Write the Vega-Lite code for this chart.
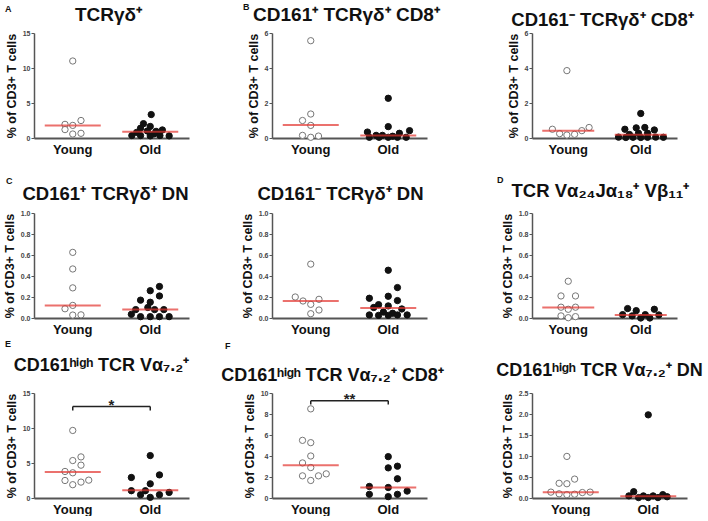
{
  "$schema": "https://vega.github.io/schema/vega-lite/v6.json",
  "padding": {"left": 3, "top": 3, "right": 0, "bottom": 0},
  "columns": 6,
  "spacing": {"row": 75, "column": 0},
  "bounds": "flush",
  "align": "each",
  "datasets": {
    "pts": [
      {"panel":"A","group":"Young","slot":0,"value":11.0},
      {"panel":"A","group":"Young","slot":1.7,"value":2.5},
      {"panel":"A","group":"Young","slot":-1.6,"value":1.95},
      {"panel":"A","group":"Young","slot":0,"value":1.8},
      {"panel":"A","group":"Young","slot":-1.6,"value":1.2},
      {"panel":"A","group":"Young","slot":0,"value":0.57},
      {"panel":"A","group":"Young","slot":1.7,"value":0.67},
      {"panel":"A","group":"Old","slot":0.2,"value":3.35},
      {"panel":"A","group":"Old","slot":-1.4,"value":2.05},
      {"panel":"A","group":"Old","slot":0,"value":1.65},
      {"panel":"A","group":"Old","slot":-2,"value":1.4},
      {"panel":"A","group":"Old","slot":2.5,"value":1.15},
      {"panel":"A","group":"Old","slot":-0.6,"value":1.0},
      {"panel":"A","group":"Old","slot":1.2,"value":0.95},
      {"panel":"A","group":"Old","slot":-2.8,"value":0.8},
      {"panel":"A","group":"Old","slot":0.8,"value":0.6},
      {"panel":"A","group":"Old","slot":-3.8,"value":0.35},
      {"panel":"A","group":"Old","slot":-2,"value":0.35},
      {"panel":"A","group":"Old","slot":0,"value":0.3},
      {"panel":"A","group":"Old","slot":2,"value":0.35},
      {"panel":"A","group":"Old","slot":3.9,"value":0.3},

      {"panel":"B","group":"Young","slot":0,"value":5.56},
      {"panel":"B","group":"Young","slot":0,"value":1.37},
      {"panel":"B","group":"Young","slot":-1.7,"value":1.0},
      {"panel":"B","group":"Young","slot":0,"value":0.72},
      {"panel":"B","group":"Young","slot":-1.7,"value":0.15},
      {"panel":"B","group":"Young","slot":0,"value":0.04},
      {"panel":"B","group":"Young","slot":1.6,"value":0.11},
      {"panel":"B","group":"Old","slot":0,"value":2.27},
      {"panel":"B","group":"Old","slot":0,"value":0.65},
      {"panel":"B","group":"Old","slot":4.4,"value":0.42},
      {"panel":"B","group":"Old","slot":-4.3,"value":0.34},
      {"panel":"B","group":"Old","slot":2.3,"value":0.27},
      {"panel":"B","group":"Old","slot":-2.5,"value":0.15},
      {"panel":"B","group":"Old","slot":-1.2,"value":0.15},
      {"panel":"B","group":"Old","slot":0.9,"value":0.1},
      {"panel":"B","group":"Old","slot":-3.9,"value":0.04},
      {"panel":"B","group":"Old","slot":-1.9,"value":0.04},
      {"panel":"B","group":"Old","slot":0,"value":0.04},
      {"panel":"B","group":"Old","slot":1.9,"value":0.04},
      {"panel":"B","group":"Old","slot":3.7,"value":0.04},

      {"panel":"B2","group":"Young","slot":-0.3,"value":3.85},
      {"panel":"B2","group":"Young","slot":-3.5,"value":0.5},
      {"panel":"B2","group":"Young","slot":-1.9,"value":0.25},
      {"panel":"B2","group":"Young","slot":-0.3,"value":0.17},
      {"panel":"B2","group":"Young","slot":1.4,"value":0.21},
      {"panel":"B2","group":"Young","slot":3,"value":0.42},
      {"panel":"B2","group":"Young","slot":4.6,"value":0.6},
      {"panel":"B2","group":"Old","slot":0,"value":1.4},
      {"panel":"B2","group":"Old","slot":-3.5,"value":0.5},
      {"panel":"B2","group":"Old","slot":-1,"value":0.58},
      {"panel":"B2","group":"Old","slot":0.9,"value":0.6},
      {"panel":"B2","group":"Old","slot":3,"value":0.46},
      {"panel":"B2","group":"Old","slot":-2.5,"value":0.2},
      {"panel":"B2","group":"Old","slot":-0.5,"value":0.27},
      {"panel":"B2","group":"Old","slot":1.5,"value":0.27},
      {"panel":"B2","group":"Old","slot":-4.9,"value":0.05},
      {"panel":"B2","group":"Old","slot":-3.3,"value":0.03},
      {"panel":"B2","group":"Old","slot":-1.7,"value":0.04},
      {"panel":"B2","group":"Old","slot":0,"value":0.03},
      {"panel":"B2","group":"Old","slot":1.5,"value":0.04},
      {"panel":"B2","group":"Old","slot":3.3,"value":0.05},
      {"panel":"B2","group":"Old","slot":5,"value":0.04},

      {"panel":"C","group":"Young","slot":0,"value":0.625},
      {"panel":"C","group":"Young","slot":0,"value":0.467},
      {"panel":"C","group":"Young","slot":0,"value":0.287},
      {"panel":"C","group":"Young","slot":0,"value":0.12},
      {"panel":"C","group":"Young","slot":-1.6,"value":0.088},
      {"panel":"C","group":"Young","slot":0,"value":0.028},
      {"panel":"C","group":"Young","slot":1.7,"value":0.03},
      {"panel":"C","group":"Old","slot":1.9,"value":0.3},
      {"panel":"C","group":"Old","slot":0,"value":0.26},
      {"panel":"C","group":"Old","slot":1.9,"value":0.21},
      {"panel":"C","group":"Old","slot":-2,"value":0.17},
      {"panel":"C","group":"Old","slot":0,"value":0.15},
      {"panel":"C","group":"Old","slot":-3,"value":0.08},
      {"panel":"C","group":"Old","slot":-0.5,"value":0.1},
      {"panel":"C","group":"Old","slot":0.9,"value":0.08},
      {"panel":"C","group":"Old","slot":2.8,"value":0.08},
      {"panel":"C","group":"Old","slot":-3.9,"value":0.035},
      {"panel":"C","group":"Old","slot":-2,"value":0.013},
      {"panel":"C","group":"Old","slot":0,"value":0.013},
      {"panel":"C","group":"Old","slot":1.9,"value":0.013},
      {"panel":"C","group":"Old","slot":3.9,"value":0.013},

      {"panel":"C2","group":"Young","slot":0,"value":0.513},
      {"panel":"C2","group":"Young","slot":-3.2,"value":0.2},
      {"panel":"C2","group":"Young","slot":-1.6,"value":0.162},
      {"panel":"C2","group":"Young","slot":1.7,"value":0.178},
      {"panel":"C2","group":"Young","slot":0,"value":0.13},
      {"panel":"C2","group":"Young","slot":1.7,"value":0.076},
      {"panel":"C2","group":"Young","slot":0,"value":0.041},
      {"panel":"C2","group":"Old","slot":0,"value":0.455},
      {"panel":"C2","group":"Old","slot":1.9,"value":0.29},
      {"panel":"C2","group":"Old","slot":0,"value":0.207},
      {"panel":"C2","group":"Old","slot":-3.9,"value":0.188},
      {"panel":"C2","group":"Old","slot":1.9,"value":0.166},
      {"panel":"C2","group":"Old","slot":-2,"value":0.127},
      {"panel":"C2","group":"Old","slot":0,"value":0.115},
      {"panel":"C2","group":"Old","slot":-3,"value":0.1},
      {"panel":"C2","group":"Old","slot":2.8,"value":0.086},
      {"panel":"C2","group":"Old","slot":-1,"value":0.057},
      {"panel":"C2","group":"Old","slot":0.9,"value":0.045},
      {"panel":"C2","group":"Old","slot":-3.9,"value":0.029},
      {"panel":"C2","group":"Old","slot":-2,"value":0.025},
      {"panel":"C2","group":"Old","slot":0,"value":0.025},
      {"panel":"C2","group":"Old","slot":1.9,"value":0.029},
      {"panel":"C2","group":"Old","slot":3.9,"value":0.029},

      {"panel":"D","group":"Young","slot":0,"value":0.35},
      {"panel":"D","group":"Young","slot":-1.6,"value":0.21},
      {"panel":"D","group":"Young","slot":1.6,"value":0.21},
      {"panel":"D","group":"Young","slot":-1.6,"value":0.103},
      {"panel":"D","group":"Young","slot":0,"value":0.083},
      {"panel":"D","group":"Young","slot":1.6,"value":0.103},
      {"panel":"D","group":"Young","slot":-1.6,"value":0.02},
      {"panel":"D","group":"Young","slot":0,"value":0.003},
      {"panel":"D","group":"Young","slot":1.6,"value":0.013},
      {"panel":"D","group":"Old","slot":-2.9,"value":0.09},
      {"panel":"D","group":"Old","slot":-1,"value":0.07},
      {"panel":"D","group":"Old","slot":3,"value":0.083},
      {"panel":"D","group":"Old","slot":-4,"value":0.032},
      {"panel":"D","group":"Old","slot":-1.9,"value":0.02},
      {"panel":"D","group":"Old","slot":1,"value":0.032},
      {"panel":"D","group":"Old","slot":4,"value":0.029},
      {"panel":"D","group":"Old","slot":0,"value":0.0},
      {"panel":"D","group":"Old","slot":2,"value":0.0},

      {"panel":"E","group":"Young","slot":0,"value":9.65},
      {"panel":"E","group":"Young","slot":1.7,"value":5.87},
      {"panel":"E","group":"Young","slot":0,"value":5.35},
      {"panel":"E","group":"Young","slot":1.7,"value":4.69},
      {"panel":"E","group":"Young","slot":-1.6,"value":3.79},
      {"panel":"E","group":"Young","slot":0,"value":3.6},
      {"panel":"E","group":"Young","slot":-1.6,"value":2.5},
      {"panel":"E","group":"Young","slot":3.3,"value":2.55},
      {"panel":"E","group":"Young","slot":1.7,"value":2.27},
      {"panel":"E","group":"Young","slot":0,"value":1.9},
      {"panel":"E","group":"Old","slot":0,"value":6.06},
      {"panel":"E","group":"Old","slot":-3.9,"value":2.93},
      {"panel":"E","group":"Old","slot":1.9,"value":3.3},
      {"panel":"E","group":"Old","slot":0,"value":2.03},
      {"panel":"E","group":"Old","slot":-3.9,"value":1.04},
      {"panel":"E","group":"Old","slot":-1,"value":1.04},
      {"panel":"E","group":"Old","slot":-2,"value":0.47},
      {"panel":"E","group":"Old","slot":0,"value":0.09},
      {"panel":"E","group":"Old","slot":1.9,"value":0.47},
      {"panel":"E","group":"Old","slot":3.9,"value":0.8},

      {"panel":"F","group":"Young","slot":0,"value":8.49},
      {"panel":"F","group":"Young","slot":-1.7,"value":5.49},
      {"panel":"F","group":"Young","slot":0,"value":5.27},
      {"panel":"F","group":"Young","slot":0,"value":4.0},
      {"panel":"F","group":"Young","slot":-1.7,"value":3.34},
      {"panel":"F","group":"Young","slot":0,"value":2.9},
      {"panel":"F","group":"Young","slot":-1.7,"value":2.11},
      {"panel":"F","group":"Young","slot":1.6,"value":2.11},
      {"panel":"F","group":"Young","slot":3.2,"value":2.3},
      {"panel":"F","group":"Young","slot":0,"value":1.67},
      {"panel":"F","group":"Old","slot":0,"value":3.94},
      {"panel":"F","group":"Old","slot":0,"value":2.87},
      {"panel":"F","group":"Old","slot":1.9,"value":3.03},
      {"panel":"F","group":"Old","slot":1.9,"value":1.83},
      {"panel":"F","group":"Old","slot":-3.9,"value":1.1},
      {"panel":"F","group":"Old","slot":0,"value":1.0},
      {"panel":"F","group":"Old","slot":-3.9,"value":0.35},
      {"panel":"F","group":"Old","slot":0,"value":0.13},
      {"panel":"F","group":"Old","slot":1.9,"value":0.35},
      {"panel":"F","group":"Old","slot":3.9,"value":0.66},

      {"panel":"F2","group":"Young","slot":-0.8,"value":0.99},
      {"panel":"F2","group":"Young","slot":-2.4,"value":0.35},
      {"panel":"F2","group":"Young","slot":-0.8,"value":0.34},
      {"panel":"F2","group":"Young","slot":0.8,"value":0.45},
      {"panel":"F2","group":"Young","slot":-4.1,"value":0.14},
      {"panel":"F2","group":"Young","slot":-2.4,"value":0.1},
      {"panel":"F2","group":"Young","slot":-0.8,"value":0.08},
      {"panel":"F2","group":"Young","slot":0.8,"value":0.09},
      {"panel":"F2","group":"Young","slot":2.4,"value":0.13},
      {"panel":"F2","group":"Young","slot":4,"value":0.14},
      {"panel":"F2","group":"Old","slot":0,"value":1.98},
      {"panel":"F2","group":"Old","slot":-3,"value":0.15},
      {"panel":"F2","group":"Old","slot":-4,"value":0.05},
      {"panel":"F2","group":"Old","slot":-2,"value":0.01},
      {"panel":"F2","group":"Old","slot":-1,"value":0.05},
      {"panel":"F2","group":"Old","slot":0,"value":0.01},
      {"panel":"F2","group":"Old","slot":1,"value":0.05},
      {"panel":"F2","group":"Old","slot":2,"value":0.01},
      {"panel":"F2","group":"Old","slot":3,"value":0.08},
      {"panel":"F2","group":"Old","slot":3.9,"value":0.03}
    ],
    "med": [
      {"panel":"A","group":"Young","value":1.8},{"panel":"A","group":"Old","value":0.9},
      {"panel":"B","group":"Young","value":0.74},{"panel":"B","group":"Old","value":0.15},
      {"panel":"B2","group":"Young","value":0.42},{"panel":"B2","group":"Old","value":0.19},
      {"panel":"C","group":"Young","value":0.12},{"panel":"C","group":"Old","value":0.08},
      {"panel":"C2","group":"Young","value":0.162},{"panel":"C2","group":"Old","value":0.095},
      {"panel":"D","group":"Young","value":0.1},{"panel":"D","group":"Old","value":0.029},
      {"panel":"E","group":"Young","value":3.7},{"panel":"E","group":"Old","value":1.09},
      {"panel":"F","group":"Young","value":3.12},{"panel":"F","group":"Old","value":1.0},
      {"panel":"F2","group":"Young","value":0.135},{"panel":"F2","group":"Old","value":0.04}
    ],
    "sig": [
      {"panel":"E","from":"Young","to":"Old","value":13.06,"tip":12.5,"label":"*"},
      {"panel":"F","from":"Young","to":"Old","value":9.27,"tip":8.9,"label":"**"}
    ]
  },
  "concat": [
    {"width": 29, "height": 105, "data": {"values": [{"k": 1}]}, "mark": {"type": "point", "opacity": 0},
     "title": {"text": "A", "anchor": "start", "fontSize": 9, "offset": 19}},
    {"width": 155, "height": 105,
     "title": {"text": "TCRγδ⁺", "offset": 4, "dx": -3},
     "encoding": {
       "x": {"field": "group", "type": "nominal", "scale": {"domain": ["Young","Old"], "padding": 0}, "axis": {"title": null}},
       "y": {"field": "value", "type": "quantitative", "scale": {"domain": [0, 15], "nice": false}, "axis": {"values": [0,5,10,15], "title": "% of CD3+ T cells"}}
     },
     "layer": [
       {"data": {"name": "pts"}, "transform": [{"filter": {"field": "panel", "equal": "A"}}],
        "mark": {"type": "point", "shape": "circle", "filled": true, "size": 40, "strokeWidth": 1, "opacity": 1},
        "encoding": {
          "xOffset": {"field": "slot", "type": "quantitative", "scale": {"domain": [-8, 8], "nice": false, "zero": false}},
          "fill": {"field": "group", "type": "nominal", "scale": {"domain": ["Young","Old"], "range": ["#ffffff","#111111"]}, "legend": null},
          "stroke": {"field": "group", "type": "nominal", "scale": {"domain": ["Young","Old"], "range": ["#777777","#111111"]}, "legend": null}
        }},
       {"data": {"name": "med"}, "transform": [{"filter": {"field": "panel", "equal": "A"}}],
        "mark": {"type": "tick", "color": "#e3352f", "thickness": 2, "size": 56}}
     ]},
    {"width": 83, "height": 105, "data": {"values": [{"k": 1}]}, "mark": {"type": "point", "opacity": 0},
     "title": {"text": "B", "anchor": "start", "fontSize": 9, "offset": 21, "dx": 54}},
    {"width": 155, "height": 105,
     "title": {"text": "CD161⁺ TCRγδ⁺ CD8⁺", "offset": 4, "dx": -3},
     "encoding": {
       "x": {"field": "group", "type": "nominal", "scale": {"domain": ["Young","Old"], "padding": 0}, "axis": {"title": null}},
       "y": {"field": "value", "type": "quantitative", "scale": {"domain": [0, 6], "nice": false}, "axis": {"values": [0,2,4,6], "title": "% of CD3+ T cells"}}
     },
     "layer": [
       {"data": {"name": "pts"}, "transform": [{"filter": {"field": "panel", "equal": "B"}}],
        "mark": {"type": "point", "shape": "circle", "filled": true, "size": 40, "strokeWidth": 1, "opacity": 1},
        "encoding": {
          "xOffset": {"field": "slot", "type": "quantitative", "scale": {"domain": [-8, 8], "nice": false, "zero": false}},
          "fill": {"field": "group", "type": "nominal", "scale": {"domain": ["Young","Old"], "range": ["#ffffff","#111111"]}, "legend": null},
          "stroke": {"field": "group", "type": "nominal", "scale": {"domain": ["Young","Old"], "range": ["#777777","#111111"]}, "legend": null}
        }},
       {"data": {"name": "med"}, "transform": [{"filter": {"field": "panel", "equal": "B"}}],
        "mark": {"type": "tick", "color": "#e3352f", "thickness": 2, "size": 56}}
     ]},
    {"width": 105, "height": 105, "data": {"values": [{"k": 1}]}, "mark": {"type": "point", "opacity": 0}},
    {"width": 145, "height": 105,
     "title": {"text": "CD161⁻ TCRγδ⁺ CD8⁺", "offset": 0, "dx": -2, "fontSize": 18.5},
     "encoding": {
       "x": {"field": "group", "type": "nominal", "scale": {"domain": ["Young","Old"], "padding": 0}, "axis": {"title": null}},
       "y": {"field": "value", "type": "quantitative", "scale": {"domain": [0, 6], "nice": false}, "axis": {"values": [0,2,4,6], "title": "% of CD3+ T cells"}}
     },
     "layer": [
       {"data": {"name": "pts"}, "transform": [{"filter": {"field": "panel", "equal": "B2"}}],
        "mark": {"type": "point", "shape": "circle", "filled": true, "size": 40, "strokeWidth": 1, "opacity": 1},
        "encoding": {
          "xOffset": {"field": "slot", "type": "quantitative", "scale": {"domain": [-8, 8], "nice": false, "zero": false}},
          "fill": {"field": "group", "type": "nominal", "scale": {"domain": ["Young","Old"], "range": ["#ffffff","#111111"]}, "legend": null},
          "stroke": {"field": "group", "type": "nominal", "scale": {"domain": ["Young","Old"], "range": ["#777777","#111111"]}, "legend": null}
        }},
       {"data": {"name": "med"}, "transform": [{"filter": {"field": "panel", "equal": "B2"}}],
        "mark": {"type": "tick", "color": "#e3352f", "thickness": 2, "size": 52}}
     ]},

    {"width": 29, "height": 105, "data": {"values": [{"k": 1}]}, "mark": {"type": "point", "opacity": 0},
     "title": {"text": "C", "anchor": "start", "fontSize": 9, "offset": 27, "dx": 1}},
    {"width": 155, "height": 105,
     "title": {"text": "CD161⁺ TCRγδ⁺ DN", "offset": 6, "dx": -6, "fontSize": 18.5},
     "encoding": {
       "x": {"field": "group", "type": "nominal", "scale": {"domain": ["Young","Old"], "padding": 0}, "axis": {"title": null}},
       "y": {"field": "value", "type": "quantitative", "scale": {"domain": [0, 1], "nice": false}, "axis": {"values": [0,0.2,0.4,0.6,0.8,1.0], "format": ".1f", "title": "% of CD3+ T cells"}}
     },
     "layer": [
       {"data": {"name": "pts"}, "transform": [{"filter": {"field": "panel", "equal": "C"}}],
        "mark": {"type": "point", "shape": "circle", "filled": true, "size": 40, "strokeWidth": 1, "opacity": 1},
        "encoding": {
          "xOffset": {"field": "slot", "type": "quantitative", "scale": {"domain": [-8, 8], "nice": false, "zero": false}},
          "fill": {"field": "group", "type": "nominal", "scale": {"domain": ["Young","Old"], "range": ["#ffffff","#111111"]}, "legend": null},
          "stroke": {"field": "group", "type": "nominal", "scale": {"domain": ["Young","Old"], "range": ["#777777","#111111"]}, "legend": null}
        }},
       {"data": {"name": "med"}, "transform": [{"filter": {"field": "panel", "equal": "C"}}],
        "mark": {"type": "tick", "color": "#e3352f", "thickness": 2, "size": 56}}
     ]},
    {"width": 83, "height": 105, "data": {"values": [{"k": 1}]}, "mark": {"type": "point", "opacity": 0}},
    {"width": 155, "height": 105,
     "title": {"text": "CD161⁻ TCRγδ⁺ DN", "offset": 6, "dx": -9, "fontSize": 18.5},
     "encoding": {
       "x": {"field": "group", "type": "nominal", "scale": {"domain": ["Young","Old"], "padding": 0}, "axis": {"title": null}},
       "y": {"field": "value", "type": "quantitative", "scale": {"domain": [0, 1], "nice": false}, "axis": {"values": [0,0.2,0.4,0.6,0.8,1.0], "format": ".1f", "title": "% of CD3+ T cells"}}
     },
     "layer": [
       {"data": {"name": "pts"}, "transform": [{"filter": {"field": "panel", "equal": "C2"}}],
        "mark": {"type": "point", "shape": "circle", "filled": true, "size": 40, "strokeWidth": 1, "opacity": 1},
        "encoding": {
          "xOffset": {"field": "slot", "type": "quantitative", "scale": {"domain": [-8, 8], "nice": false, "zero": false}},
          "fill": {"field": "group", "type": "nominal", "scale": {"domain": ["Young","Old"], "range": ["#ffffff","#111111"]}, "legend": null},
          "stroke": {"field": "group", "type": "nominal", "scale": {"domain": ["Young","Old"], "range": ["#777777","#111111"]}, "legend": null}
        }},
       {"data": {"name": "med"}, "transform": [{"filter": {"field": "panel", "equal": "C2"}}],
        "mark": {"type": "tick", "color": "#e3352f", "thickness": 2, "size": 56}}
     ]},
    {"width": 105, "height": 105, "data": {"values": [{"k": 1}]}, "mark": {"type": "point", "opacity": 0},
     "title": {"text": "D", "anchor": "start", "fontSize": 9, "offset": 28, "dx": 70}},
    {"width": 145, "height": 105,
     "title": {"text": "TCR Vα₂₄Jα₁₈⁺ Vβ₁₁⁺", "offset": 9, "dx": -4, "fontSize": 18.5},
     "encoding": {
       "x": {"field": "group", "type": "nominal", "scale": {"domain": ["Young","Old"], "padding": 0}, "axis": {"title": null}},
       "y": {"field": "value", "type": "quantitative", "scale": {"domain": [0, 1], "nice": false}, "axis": {"values": [0,0.2,0.4,0.6,0.8,1.0], "format": ".1f", "title": "% of CD3+ T cells"}}
     },
     "layer": [
       {"data": {"name": "pts"}, "transform": [{"filter": {"field": "panel", "equal": "D"}}],
        "mark": {"type": "point", "shape": "circle", "filled": true, "size": 40, "strokeWidth": 1, "opacity": 1},
        "encoding": {
          "xOffset": {"field": "slot", "type": "quantitative", "scale": {"domain": [-8, 8], "nice": false, "zero": false}},
          "fill": {"field": "group", "type": "nominal", "scale": {"domain": ["Young","Old"], "range": ["#ffffff","#111111"]}, "legend": null},
          "stroke": {"field": "group", "type": "nominal", "scale": {"domain": ["Young","Old"], "range": ["#777777","#111111"]}, "legend": null}
        }},
       {"data": {"name": "med"}, "transform": [{"filter": {"field": "panel", "equal": "D"}}],
        "mark": {"type": "tick", "color": "#e3352f", "thickness": 2, "size": 52}}
     ]},

    {"width": 29, "height": 105, "data": {"values": [{"k": 1}]}, "mark": {"type": "point", "opacity": 0},
     "title": {"text": "E", "anchor": "start", "fontSize": 9, "offset": 44}},
    {"width": 155, "height": 105,
     "title": {"text": "CD161ʰⁱᵍʰ TCR Vα₇.₂⁺", "offset": 14, "dx": -10, "fontSize": 18},
     "encoding": {
       "x": {"field": "group", "type": "nominal", "scale": {"domain": ["Young","Old"], "padding": 0}, "axis": {"title": null}},
       "y": {"field": "value", "type": "quantitative", "scale": {"domain": [0, 15], "nice": false}, "axis": {"values": [0,5,10,15], "title": "% of CD3+ T cells"}}
     },
     "layer": [
       {"data": {"name": "pts"}, "transform": [{"filter": {"field": "panel", "equal": "E"}}],
        "mark": {"type": "point", "shape": "circle", "filled": true, "size": 40, "strokeWidth": 1, "opacity": 1},
        "encoding": {
          "xOffset": {"field": "slot", "type": "quantitative", "scale": {"domain": [-8, 8], "nice": false, "zero": false}},
          "fill": {"field": "group", "type": "nominal", "scale": {"domain": ["Young","Old"], "range": ["#ffffff","#111111"]}, "legend": null},
          "stroke": {"field": "group", "type": "nominal", "scale": {"domain": ["Young","Old"], "range": ["#777777","#111111"]}, "legend": null}
        }},
       {"data": {"name": "med"}, "transform": [{"filter": {"field": "panel", "equal": "E"}}],
        "mark": {"type": "tick", "color": "#e3352f", "thickness": 2, "size": 56}},
       {"data": {"name": "sig"}, "transform": [{"filter": {"field": "panel", "equal": "E"}}],
        "mark": {"type": "rule", "color": "#222222", "strokeWidth": 1.5},
        "encoding": {"x": {"field": "from", "type": "nominal", "scale": {"domain": ["Young","Old"], "padding": 0}, "axis": {"title": null}}, "x2": {"field": "to"}}},
       {"data": {"name": "sig"}, "transform": [{"filter": {"field": "panel", "equal": "E"}}],
        "mark": {"type": "rule", "color": "#222222", "strokeWidth": 1.5},
        "encoding": {"x": {"field": "from", "type": "nominal", "scale": {"domain": ["Young","Old"], "padding": 0}, "axis": {"title": null}}, "y2": {"field": "tip"}}},
       {"data": {"name": "sig"}, "transform": [{"filter": {"field": "panel", "equal": "E"}}],
        "mark": {"type": "rule", "color": "#222222", "strokeWidth": 1.5},
        "encoding": {"x": {"field": "to", "type": "nominal", "scale": {"domain": ["Young","Old"], "padding": 0}, "axis": {"title": null}}, "y2": {"field": "tip"}}},
       {"data": {"name": "sig"}, "transform": [{"filter": {"field": "panel", "equal": "E"}}],
        "mark": {"type": "text", "fontSize": 15, "fontWeight": "bold", "baseline": "alphabetic", "align": "center", "dy": 3, "color": "#222222"},
        "encoding": {"x": {"field": "from", "type": "nominal", "scale": {"domain": ["Young","Old"], "padding": 0}, "axis": {"title": null}},
                     "xOffset": {"datum": 8, "type": "quantitative", "scale": {"domain": [-8, 8], "nice": false, "zero": false}},
                     "text": {"field": "label"}}}
     ]},
    {"width": 83, "height": 105, "data": {"values": [{"k": 1}]}, "mark": {"type": "point", "opacity": 0},
     "title": {"text": "F", "anchor": "start", "fontSize": 9, "offset": 42, "dx": 36}},
    {"width": 155, "height": 105,
     "title": {"text": "CD161ʰⁱᵍʰ TCR Vα₇.₂⁺ CD8⁺", "offset": 4, "dx": -17, "fontSize": 18},
     "encoding": {
       "x": {"field": "group", "type": "nominal", "scale": {"domain": ["Young","Old"], "padding": 0}, "axis": {"title": null}},
       "y": {"field": "value", "type": "quantitative", "scale": {"domain": [0, 10], "nice": false}, "axis": {"values": [0,2,4,6,8,10], "title": "% of CD3+ T cells"}}
     },
     "layer": [
       {"data": {"name": "pts"}, "transform": [{"filter": {"field": "panel", "equal": "F"}}],
        "mark": {"type": "point", "shape": "circle", "filled": true, "size": 40, "strokeWidth": 1, "opacity": 1},
        "encoding": {
          "xOffset": {"field": "slot", "type": "quantitative", "scale": {"domain": [-8, 8], "nice": false, "zero": false}},
          "fill": {"field": "group", "type": "nominal", "scale": {"domain": ["Young","Old"], "range": ["#ffffff","#111111"]}, "legend": null},
          "stroke": {"field": "group", "type": "nominal", "scale": {"domain": ["Young","Old"], "range": ["#777777","#111111"]}, "legend": null}
        }},
       {"data": {"name": "med"}, "transform": [{"filter": {"field": "panel", "equal": "F"}}],
        "mark": {"type": "tick", "color": "#e3352f", "thickness": 2, "size": 56}},
       {"data": {"name": "sig"}, "transform": [{"filter": {"field": "panel", "equal": "F"}}],
        "mark": {"type": "rule", "color": "#222222", "strokeWidth": 1.5},
        "encoding": {"x": {"field": "from", "type": "nominal", "scale": {"domain": ["Young","Old"], "padding": 0}, "axis": {"title": null}}, "x2": {"field": "to"}}},
       {"data": {"name": "sig"}, "transform": [{"filter": {"field": "panel", "equal": "F"}}],
        "mark": {"type": "rule", "color": "#222222", "strokeWidth": 1.5},
        "encoding": {"x": {"field": "from", "type": "nominal", "scale": {"domain": ["Young","Old"], "padding": 0}, "axis": {"title": null}}, "y2": {"field": "tip"}}},
       {"data": {"name": "sig"}, "transform": [{"filter": {"field": "panel", "equal": "F"}}],
        "mark": {"type": "rule", "color": "#222222", "strokeWidth": 1.5},
        "encoding": {"x": {"field": "to", "type": "nominal", "scale": {"domain": ["Young","Old"], "padding": 0}, "axis": {"title": null}}, "y2": {"field": "tip"}}},
       {"data": {"name": "sig"}, "transform": [{"filter": {"field": "panel", "equal": "F"}}],
        "mark": {"type": "text", "fontSize": 15, "fontWeight": "bold", "baseline": "alphabetic", "align": "center", "dy": 3, "color": "#222222"},
        "encoding": {"x": {"field": "from", "type": "nominal", "scale": {"domain": ["Young","Old"], "padding": 0}, "axis": {"title": null}},
                     "xOffset": {"datum": 8, "type": "quantitative", "scale": {"domain": [-8, 8], "nice": false, "zero": false}},
                     "text": {"field": "label"}}}
     ]},
    {"width": 105, "height": 105, "data": {"values": [{"k": 1}]}, "mark": {"type": "point", "opacity": 0}},
    {"width": 155, "height": 105,
     "title": {"text": "CD161ʰⁱᵍʰ TCR Vα₇.₂⁺ DN", "offset": 9, "dx": -10, "fontSize": 18},
     "encoding": {
       "x": {"field": "group", "type": "nominal", "scale": {"domain": ["Young","Old"], "padding": 0}, "axis": {"title": null}},
       "y": {"field": "value", "type": "quantitative", "scale": {"domain": [0, 2.5], "nice": false}, "axis": {"values": [0,0.5,1.0,1.5,2.0,2.5], "format": ".1f", "title": "% of CD3+ T cells"}}
     },
     "layer": [
       {"data": {"name": "pts"}, "transform": [{"filter": {"field": "panel", "equal": "F2"}}],
        "mark": {"type": "point", "shape": "circle", "filled": true, "size": 40, "strokeWidth": 1, "opacity": 1},
        "encoding": {
          "xOffset": {"field": "slot", "type": "quantitative", "scale": {"domain": [-8, 8], "nice": false, "zero": false}},
          "fill": {"field": "group", "type": "nominal", "scale": {"domain": ["Young","Old"], "range": ["#ffffff","#111111"]}, "legend": null},
          "stroke": {"field": "group", "type": "nominal", "scale": {"domain": ["Young","Old"], "range": ["#777777","#111111"]}, "legend": null}
        }},
       {"data": {"name": "med"}, "transform": [{"filter": {"field": "panel", "equal": "F2"}}],
        "mark": {"type": "tick", "color": "#e3352f", "thickness": 2, "size": 56}}
     ]}
  ],
  "resolve": {"scale": {"x": "independent", "y": "independent", "xOffset": "independent"}},
  "config": {
    "view": {"stroke": null},
    "font": "Liberation Sans",
    "title": {"font": "Liberation Sans", "fontSize": 19, "fontWeight": "bold", "color": "#111111", "frame": "group", "anchor": "middle", "baseline": "alphabetic"},
    "axis": {"grid": false, "domainColor": "#555555", "tickColor": "#555555", "labelFont": "Liberation Sans", "titleFont": "Liberation Sans", "labelFontWeight": "bold", "titleFontWeight": "bold"},
    "axisX": {"ticks": false, "domainWidth": 2, "labelFontSize": 13, "labelColor": "#111111", "labelAngle": 0, "labelPadding": 5},
    "axisY": {"domainWidth": 1.5, "tickSize": 3, "tickWidth": 1, "labelFontSize": 7, "labelColor": "#444444", "labelPadding": 1, "titleFontSize": 12.5, "titleColor": "#111111", "titlePadding": 4}
  }
}
